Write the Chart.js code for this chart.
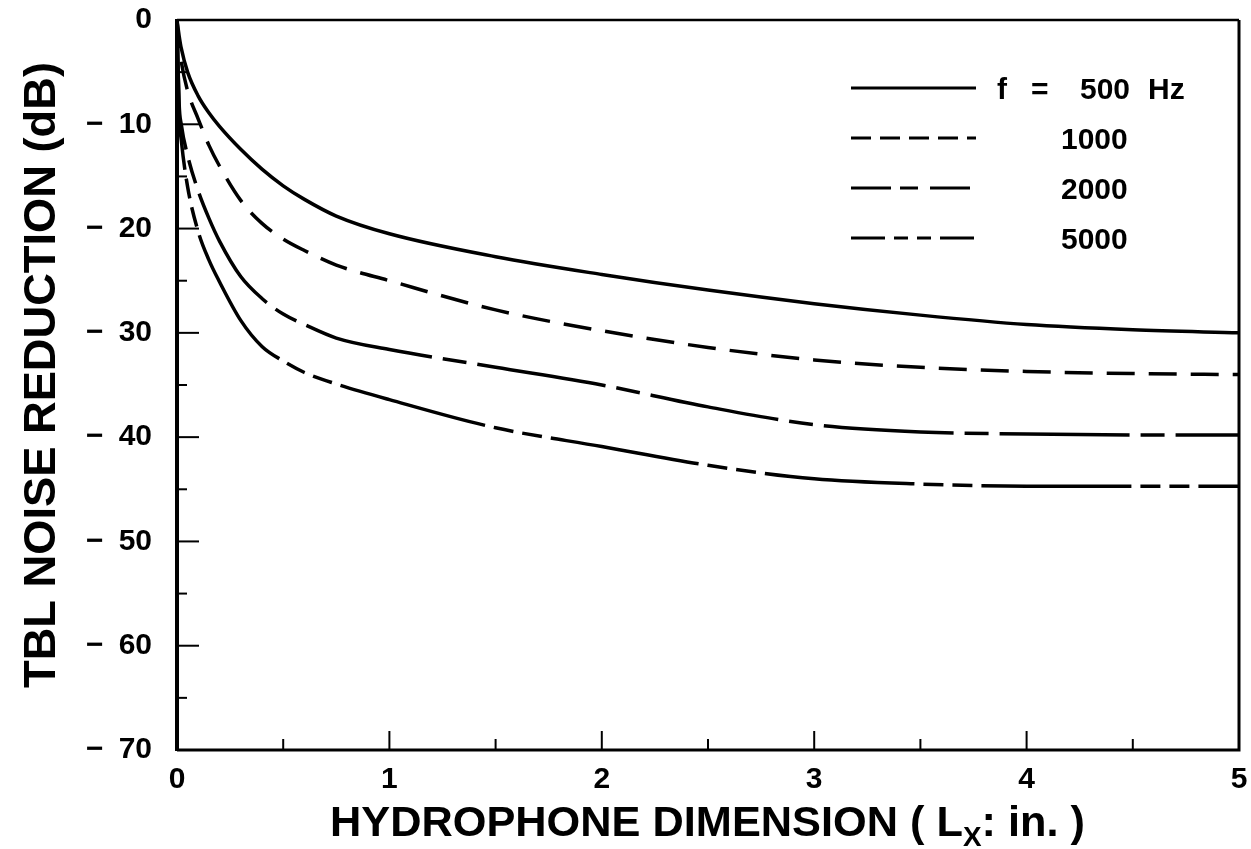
<!DOCTYPE html>
<html>
<head>
<meta charset="utf-8">
<script src="https://cdn.jsdelivr.net/npm/chart.js@4"></script>
<style>
  html, body { margin: 0; padding: 0; background: #fff; }
  canvas { display: block; }
</style>
</head>
<body>
<canvas id="myChart" width="1251" height="849"></canvas>
<script>
// hydrophone dimension Lx (in.)
const lx = [0, 0.01, 0.02, 0.05, 0.1, 0.15, 0.2, 0.3, 0.4, 0.5, 0.6, 0.75, 1, 1.5, 2, 2.5, 3, 3.5, 4, 4.5, 5]

// TBL noise reduction (dB) for each frequency
const db500  = [0, -1.5, -2.7, -5, -7.3, -8.9, -10.2, -12.4, -14.3, -15.9, -17.2, -18.8, -20.5, -22.7, -24.4, -25.9, -27.2, -28.3, -29.2, -29.7, -30]
const db1000 = [0, -2.5, -4, -6.8, -9.5, -12, -14, -17.3, -19.5, -21.0, -22.1, -23.5, -25.0, -27.8, -29.8, -31.4, -32.6, -33.3, -33.7, -33.9, -34]
const db2000 = [0, -8, -10, -13, -16.4, -19, -21.2, -24.6, -26.7, -28.2, -29.2, -30.5, -31.6, -33.3, -35.0, -37.1, -38.8, -39.5, -39.7, -39.8, -39.8]
const db5000 = [0, -9, -11.5, -16, -20.3, -23, -25.1, -28.8, -31.3, -32.7, -33.8, -34.9, -36.4, -39.1, -40.9, -42.7, -44, -44.5, -44.7, -44.7, -44.7]

const freqLabels = ['500', '1000', '2000', '5000']

const FONT = "'Liberation Sans', Arial, Helvetica, sans-serif"

// dash patterns for the curves and the short legend samples
const curveDash = [[], [28, 14], [130, 11, 24, 11], [150, 9, 20, 9, 20, 9]]
const legendDash = [[], [20, 9], [40, 9, 18, 12], [34, 9, 14, 9, 14, 9]]

function points(ys) {
    return lx.map(function (x, i) { return { x: x, y: ys[i] } })
}

// draw text squeezed/stretched to a given width
function fitText(ctx, parts, x, y, targetW) {
    let w = 0
    parts.forEach(function (p) {
        ctx.font = p.font
        w += ctx.measureText(p.text).width
    })
    const sx = targetW / w
    ctx.save()
    ctx.translate(x, y)
    ctx.scale(sx, 1)
    let cx = 0
    parts.forEach(function (p) {
        ctx.font = p.font
        ctx.fillText(p.text, cx, p.dy || 0)
        cx += ctx.measureText(p.text).width
    })
    ctx.restore()
}

const framePlugin = {
    id: 'frame',
    afterDraw(chart) {
        const ctx = chart.ctx
        const a = chart.chartArea
        const xs = chart.scales.x
        const ys = chart.scales.y
        ctx.save()
        ctx.strokeStyle = '#000'
        ctx.fillStyle = '#000'
        ctx.lineCap = 'butt'

        // box
        ctx.lineWidth = 2.5
        ctx.beginPath()
        ctx.moveTo(a.left, a.top)
        ctx.lineTo(a.right, a.top)
        ctx.stroke()
        ctx.lineWidth = 3
        ctx.beginPath()
        ctx.moveTo(a.right, a.top)
        ctx.lineTo(a.right, a.bottom)
        ctx.lineTo(a.left, a.bottom)
        ctx.stroke()
        ctx.lineWidth = 4
        ctx.beginPath()
        ctx.moveTo(a.left, a.top - 1)
        ctx.lineTo(a.left, a.bottom + 1)
        ctx.stroke()

        // inside ticks
        ctx.lineWidth = 2
        for (let v = -65; v < 0; v += 5) {
            const py = ys.getPixelForValue(v)
            const len = v % 10 === 0 ? 22 : 10
            ctx.beginPath()
            ctx.moveTo(a.left, py)
            ctx.lineTo(a.left + len, py)
            ctx.stroke()
        }
        for (let v = 0.5; v < 5; v += 0.5) {
            const px = xs.getPixelForValue(v)
            const len = Number.isInteger(v) ? 19 : 11
            ctx.beginPath()
            ctx.moveTo(px, a.bottom)
            ctx.lineTo(px, a.bottom - len)
            ctx.stroke()
        }

        // axis titles
        ctx.textBaseline = 'alphabetic'
        ctx.textAlign = 'left'
        fitText(ctx, [
            { text: 'HYDROPHONE DIMENSION ( L', font: 'bold 42px ' + FONT },
            { text: 'X', font: 'bold 27px ' + FONT, dy: 10 },
            { text: ': in. )', font: 'bold 42px ' + FONT }
        ], 330, 836, 755)

        ctx.save()
        ctx.translate(55, 688)
        ctx.rotate(-Math.PI / 2)
        fitText(ctx, [{ text: 'TBL NOISE REDUCTION (dB)', font: 'bold 44px ' + FONT }], 0, 0, 626)
        ctx.restore()

        // legend
        const rowY = [88, 138, 188, 238]
        chart.data.datasets.forEach(function (ds, i) {
            ctx.lineWidth = 3
            ctx.setLineDash(legendDash[i])
            ctx.beginPath()
            ctx.moveTo(851, rowY[i])
            ctx.lineTo(976, rowY[i])
            ctx.stroke()
        })
        ctx.setLineDash([])
        ctx.font = 'bold 30px ' + FONT
        ctx.fillText('f', 997, rowY[0] + 11)
        ctx.fillText('=', 1031, rowY[0] + 11)
        ctx.fillText(freqLabels[0], 1080, rowY[0] + 11)
        ctx.fillText('Hz', 1148, rowY[0] + 11)
        for (let i = 1; i < freqLabels.length; i++) {
            ctx.fillText(freqLabels[i], 1061, rowY[i] + 11)
        }
        ctx.restore()
    }
}

Chart.defaults.font.family = FONT
Chart.defaults.color = '#000'

const tickFont = { family: FONT, size: 30, weight: 'bold' }

const currChart = document.getElementById('myChart').getContext('2d')

let lineChart = new Chart(currChart, {
    type: 'line',
    data: {
        datasets: [db500, db1000, db2000, db5000].map(function (ys, i) {
            return {
                label: freqLabels[i],
                data: points(ys),
                borderColor: '#000',
                borderWidth: 3.5,
                borderDash: curveDash[i],
                pointRadius: 0,
                cubicInterpolationMode: 'monotone',
                fill: false
            }
        })
    },
    options: {
        responsive: false,
        animation: false,
        layout: { padding: { top: 20, right: 12, bottom: 0, left: 0 } },
        plugins: {
            legend: { display: false },
            tooltip: { enabled: false }
        },
        scales: {
            x: {
                type: 'linear',
                min: 0,
                max: 5,
                ticks: { stepSize: 1, padding: 12, font: tickFont },
                grid: { display: false, drawTicks: false },
                border: { display: false },
                afterFit(scale) {
                    scale.height = 99
                    scale.paddingLeft = 0
                    scale.paddingRight = 0
                }
            },
            y: {
                min: -70,
                max: 0,
                ticks: {
                    stepSize: 10,
                    padding: 25,
                    font: tickFont,
                    callback: function (v) { return v === 0 ? '0' : '\u2212\u2002' + Math.abs(v) }
                },
                grid: { display: false, drawTicks: false },
                border: { display: false },
                afterFit(scale) {
                    scale.width = 177
                    scale.paddingTop = 0
                    scale.paddingBottom = 0
                }
            }
        }
    },
    plugins: [framePlugin]
})
</script>
</body>
</html>
